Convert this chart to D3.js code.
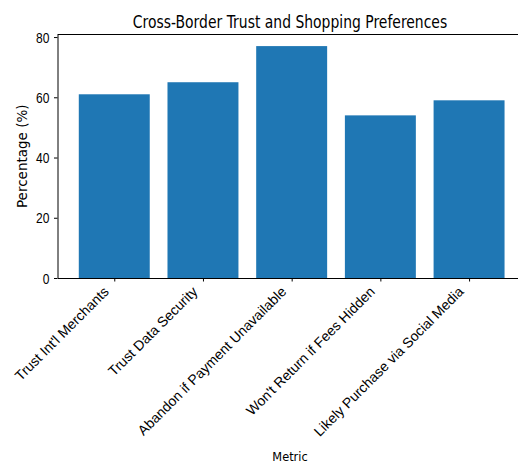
<!DOCTYPE html>
<html>
<head>
<meta charset="utf-8">
<script src="https://cdn.jsdelivr.net/npm/d3@7"></script>
<style>
  body { margin: 0; background: #fff; }
  svg { font-family: "DejaVu Sans", sans-serif; }
</style>
</head>
<body>
<div id="chart"></div>
<script>
const metrics = [
  "Trust Int'l Merchants",
  "Trust Data Security",
  "Abandon if Payment Unavailable",
  "Won't Return if Fees Hidden",
  "Likely Purchase via Social Media"
];
const percentages = [61, 65, 77, 54, 59];
const yTicks = [0, 20, 40, 60, 80];

const width = 518;
const height = 464;
const margin = { top: 34.5, left: 57.5, bottom: 186 };

const svg = d3.select("#chart")
  .append("svg")
  .attr("width", width)
  .attr("height", height);

// matplotlib style: bars 0.8 wide, 5% margins on both axes
const step = 88.7;
const x = d3.scaleLinear()
  .domain([-0.64, 4.64])
  .range([margin.left, margin.left + 5.28 * step]);

const y = d3.scaleLinear()
  .domain([0, d3.max(percentages) * 1.05])
  .range([height - margin.bottom, margin.top]);

svg.append("g")
  .selectAll("rect")
  .data(percentages).enter()
  .append("rect")
    .attr("x", (d, i) => x(i - 0.4))
    .attr("width", x(0.4) - x(-0.4))
    .attr("y", (d) => y(d))
    .attr("height", (d) => y(0) - y(d))
    .attr("fill", "#1f77b4");

// y axis
const yAxis = svg.append("g")
  .attr("transform", `translate(${margin.left},0)`)
  .call(d3.axisLeft(y).tickValues(yTicks).tickSize(3.5).tickSizeOuter(0));
yAxis.select(".domain").attr("stroke", "#000");
yAxis.selectAll(".tick line").attr("stroke", "#000");
yAxis.selectAll(".tick text")
  .attr("x", null)
  .attr("dy", null)
  .attr("fill", "#000")
  .style("font-size", "14px")
  .attr("transform", "translate(-8,5) scale(0.86,1)");

// x axis
const xAxis = svg.append("g")
  .attr("transform", `translate(0,${y(0)})`)
  .call(d3.axisBottom(x).tickValues(d3.range(metrics.length)).tickSize(3.5).tickSizeOuter(0)
    .tickFormat((i) => metrics[i]));
xAxis.select(".domain").attr("stroke", "#000");
xAxis.selectAll(".tick line").attr("stroke", "#000");
xAxis.selectAll(".tick text")
  .attr("text-anchor", "end")
  .attr("dy", null)
  .attr("y", null)
  .attr("fill", "#000")
  .style("font-size", "14px")
  .attr("transform", "translate(-5,14.5) rotate(-45)");

// top spine
svg.append("line")
  .attr("x1", margin.left).attr("x2", x(4.64))
  .attr("y1", margin.top).attr("y2", margin.top)
  .attr("stroke", "#000");

svg.append("text")
  .attr("transform", "translate(290,27.5) scale(0.82,1)")
  .attr("text-anchor", "middle")
  .style("font-size", "17px")
  .text("Cross-Border Trust and Shopping Preferences");

svg.append("text")
  .attr("transform", `translate(27,${(y(0) + margin.top) / 2}) rotate(-90)`)
  .attr("text-anchor", "middle")
  .style("font-size", "13.5px")
  .text("Percentage (%)");

svg.append("text")
  .attr("transform", "translate(290,461) scale(0.91,1)")
  .attr("text-anchor", "middle")
  .style("font-size", "12.5px")
  .text("Metric");
</script>
</body>
</html>
